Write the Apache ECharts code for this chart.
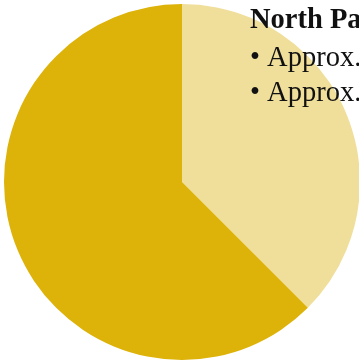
<!DOCTYPE html>
<html>
<head>
<meta charset="utf-8">
<script src="https://cdn.jsdelivr.net/npm/echarts@6/dist/echarts.min.js"></script>
<style>html,body{margin:0;padding:0;background:#fff;}#c{width:359px;height:360px;}</style>
</head>
<body>
<div id="c"></div>
<script>
const categories = ['Light share', 'Dark share'];
const values = [37.5, 62.5];
const colors = ['#F0DE9B', '#DDB209'];
const titleText = 'North Pacific';
const bulletLines = ['• Approx. 62.5%', '• Approx. 37.5%'];

const chart = echarts.init(document.getElementById('c'));
const serif = '"Liberation Serif", "DejaVu Serif", serif';
chart.setOption({
  animation: false,
  series: [{
    type: 'pie',
    z: 1,
    center: [182, 182],
    radius: 178,
    startAngle: 90,
    clockwise: true,
    label: { show: false },
    labelLine: { show: false },
    emphasis: { disabled: true },
    itemStyle: { borderWidth: 0 },
    data: categories.map((n, i) => ({ name: n, value: values[i], itemStyle: { color: colors[i] } }))
  }],
  graphic: [
    { type: 'text', z: 100, left: 250, top: 6, style: { text: titleText, font: 'bold 28.5px ' + serif, fill: '#111' } },
    { type: 'text', z: 100, left: 250, top: 44, style: { text: bulletLines[0], font: '28.5px ' + serif, fill: '#111' } },
    { type: 'text', z: 100, left: 250, top: 79, style: { text: bulletLines[1], font: '28.5px ' + serif, fill: '#111' } }
  ]
});
</script>
</body>
</html>
